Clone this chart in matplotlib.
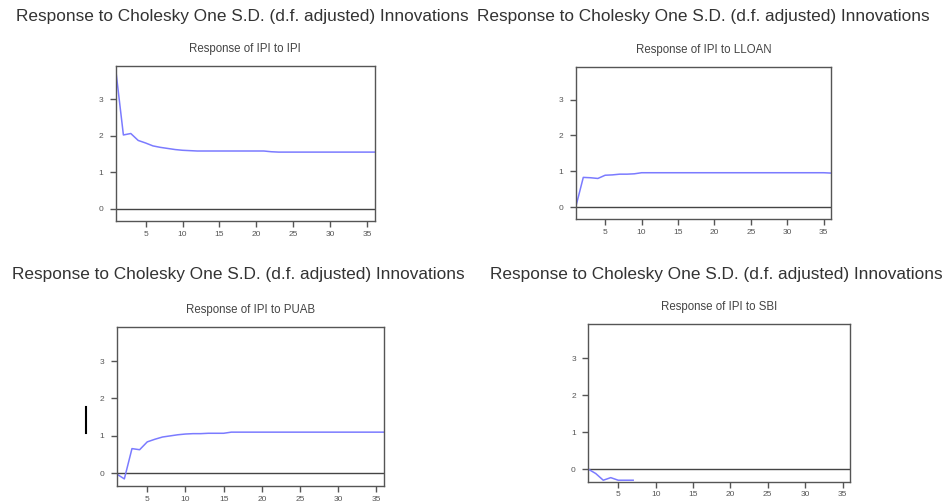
import matplotlib
matplotlib.use("Agg")
import matplotlib.pyplot as plt
from matplotlib.lines import Line2D

plt.rcParams['font.family'] = ['Liberation Sans', 'DejaVu Sans']

suptitle = "Response to Cholesky One S.D. (d.f. adjusted) Innovations"
panel_titles = ["Response of IPI to IPI", "Response of IPI to LLOAN",
                "Response of IPI to PUAB", "Response of IPI to SBI"]

periods = list(range(1, 37))
ipi_ipi = [3.75, 2.02, 2.06, 1.87, 1.80, 1.72, 1.68, 1.65, 1.62, 1.60,
           1.59, 1.58, 1.58, 1.58, 1.58, 1.58, 1.58, 1.58, 1.58, 1.58,
           1.58, 1.56, 1.55, 1.55, 1.55, 1.55, 1.55, 1.55, 1.55, 1.55,
           1.55, 1.55, 1.55, 1.55, 1.55, 1.55]
ipi_lloan = [0.03, 0.83, 0.82, 0.80, 0.89, 0.90, 0.92, 0.92, 0.93, 0.96,
             0.96, 0.96, 0.96, 0.96, 0.96, 0.96, 0.96, 0.96, 0.96, 0.96,
             0.96, 0.96, 0.96, 0.96, 0.96, 0.96, 0.96, 0.96, 0.96, 0.96,
             0.96, 0.96, 0.96, 0.96, 0.96, 0.95]
ipi_puab = [-0.02, -0.15, 0.66, 0.63, 0.84, 0.91, 0.97, 1.00, 1.03, 1.05,
            1.06, 1.06, 1.07, 1.07, 1.07, 1.10, 1.10, 1.10, 1.10, 1.10,
            1.10, 1.10, 1.10, 1.10, 1.10, 1.10, 1.10, 1.10, 1.10, 1.10,
            1.10, 1.10, 1.10, 1.10, 1.10, 1.10]
sbi_periods = [1, 2, 3, 4, 5, 6, 7]
ipi_sbi = [0.0, -0.12, -0.30, -0.23, -0.30, -0.30, -0.30]

xticks = [5, 10, 15, 20, 25, 30, 35]
yticks = [0, 1, 2, 3]

fig = plt.figure(figsize=(9.52, 5.04), dpi=100)
W, H = 952, 504

def px_axes(l, t, r, b):
    return fig.add_axes([l / W, 1 - b / H, (r - l) / W, (b - t) / H])

boxes = [(116, 65.7, 374.7, 221), (576, 66.7, 831, 219.3),
         (116.7, 326.7, 384, 486), (588.3, 324.3, 850, 481.7)]
series = [(periods, ipi_ipi), (periods, ipi_lloan),
          (periods, ipi_puab), (sbi_periods, ipi_sbi)]

line_color = '#7b7bff'
for box, title, (xs, ys) in zip(boxes, panel_titles, series):
    ax = px_axes(*box)
    ax.axhline(0, color='#444444', lw=1.0, zorder=1)
    ax.plot(xs, ys, color=line_color, lw=1.1, zorder=2)
    ax.set_xlim(1, 36)
    ax.set_ylim(-0.34, 3.92)
    ax.set_xticks(xticks)
    ax.set_yticks(yticks)
    ax.tick_params(axis='both', direction='out', length=4, width=1.0,
                   labelsize=6, colors='#555555')
    ax.tick_params(axis='y', pad=5)
    ax.tick_params(axis='x', pad=3)
    for s in ax.spines.values():
        s.set_color('#555555')
        s.set_linewidth(1.0)
    ax.set_title(title, fontsize=8.3, color='#444444', pad=10)

row_y = [17, 275]
row_x = [(16, 477), (12, 490)]
for yy, (x1, x2) in zip(row_y, row_x):
    for xx in (x1, x2):
        fig.text(xx / W, 1 - yy / H, suptitle, fontsize=12.4, color='#333333',
                 ha='left', va='center')

fig.add_artist(Line2D([86 / W, 86 / W], [1 - 406.7 / H, 1 - 432.7 / H],
                      color='black', lw=1.5))

fig.savefig("out.png", dpi=100)
